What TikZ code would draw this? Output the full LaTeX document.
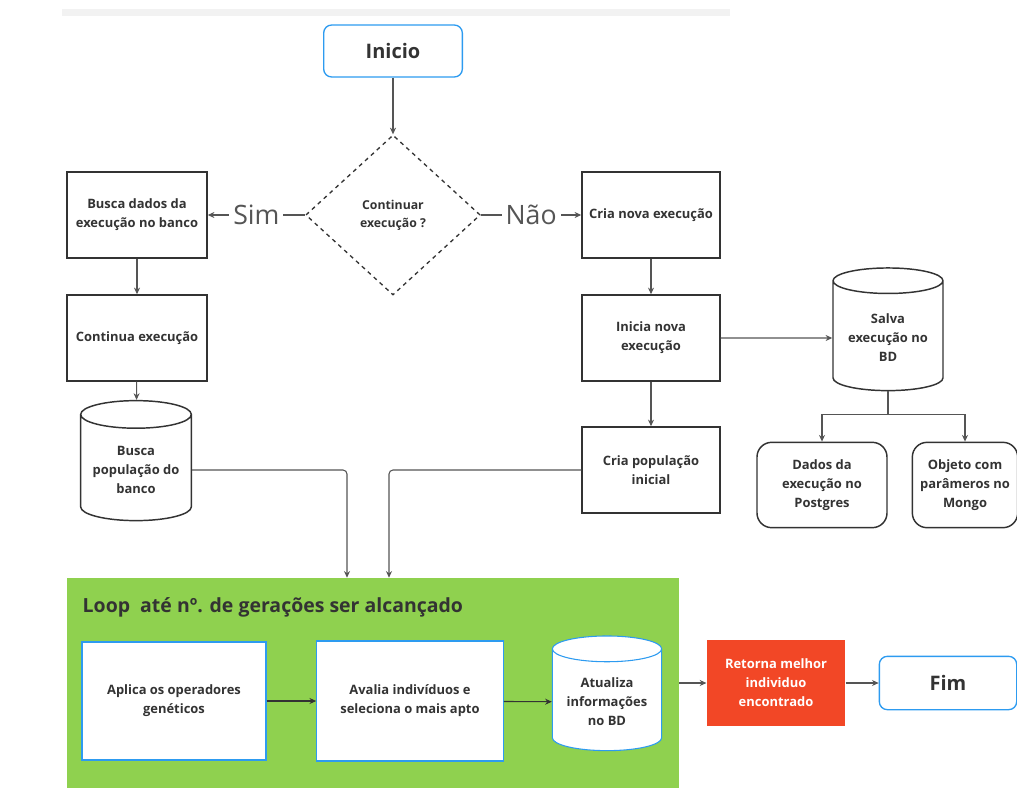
\documentclass[tikz,border=0pt]{standalone}
\usepackage{fontspec}
\setmainfont{Open Sans}
\usetikzlibrary{shapes.geometric,arrows.meta,positioning}
\definecolor{txtgray}{HTML}{333333}
\definecolor{linegray}{HTML}{555555}
\definecolor{miroblue}{HTML}{2D9BF0}
\definecolor{mirogreen}{HTML}{8FD14F}
\definecolor{mirored}{HTML}{F24726}

\begin{document}
\begin{tikzpicture}[x=0.75pt,y=-0.75pt,
    >={Stealth[length=5pt,width=4.5pt]},
    every node/.style={text=txtgray,align=center,font=\fontsize{9.7}{14.3}\selectfont\bfseries},
    arr/.style={->,draw=linegray,line width=0.8pt},
    proc/.style={draw=txtgray,line width=1.1pt,minimum width=105pt,minimum height=64.5pt,inner sep=2pt},
    term/.style={draw=miroblue,line width=1pt,rounded corners=6pt,minimum width=104pt,minimum height=39pt,font=\fontsize{15}{18}\selectfont\bfseries},
    store/.style={draw=txtgray,line width=1.1pt,rounded corners=11pt,minimum width=97.5pt,minimum height=64pt},
    cyl/.style={cylinder,shape border rotate=90,shape aspect=0.3,draw=txtgray,line width=1.1pt,minimum width=83pt,minimum height=90pt,inner sep=2pt},
    inbox/.style={fill=white,draw=miroblue,line width=0.8pt,minimum width=138pt,minimum height=88.5pt},
    answer/.style={fill=white,inner sep=3pt,text=linegray,font=\fontsize{20}{23}\selectfont\mdseries}
]
\useasboundingbox (0,0) rectangle (1017,807);
\fill[black!5] (62,9) rectangle (730,16);

% inicio e decisao
\node[term] (inicio) at (393,51) {Inicio};
\node[diamond,draw=txtgray,dashed,line width=1pt,minimum width=131pt,minimum height=120pt,inner sep=0pt,
      font=\fontsize{9.2}{13.5}\selectfont\bfseries] (decide) at (393,215) {Continuar\\execução ?};

% ramo Sim
\node[proc] (buscadados) at (137,215) {Busca dados da\\execução no banco};
\node[proc] (continua) at (137,338) {Continua execução};
\node[cyl] (buscapop) at (136,470) {Busca\\população do\\banco};

% ramo Nao
\node[proc,minimum width=103.5pt] (crianova) at (651,215) {Cria nova execução};
\node[proc,minimum width=103.5pt] (inicia) at (651,338) {Inicia nova\\execução};
\node[proc,minimum width=103.5pt] (criapop) at (651,470) {Cria população\\inicial};
\node[cyl,minimum width=82.5pt,minimum height=92pt] (salva) at (888,338) {Salva\\execução no\\BD};
\node[store] (dados) at (822,485) {Dados da\\execução no\\Postgres};
\node[store,minimum width=79pt] (objeto) at (965,485) {Objeto com\\parâmeros no\\Mongo};

% loop
\node[fill=mirogreen,minimum width=459pt,minimum height=157.5pt] (loop) at (373,683) {};
\node[anchor=west,font=\fontsize{14.6}{17}\selectfont\bfseries] (looptitle) at (78,607) {Loop\ \ até nº. de gerações ser alcançado};
\node[inbox] (aplica) at (174,701) {Aplica os operadores\\genéticos};
\node[inbox,minimum width=140pt,minimum height=90pt] (avalia) at (410,701) {Avalia indivíduos e\\seleciona o mais apto};
\node[cyl,fill=white,draw=miroblue,line width=0.8pt,minimum width=82pt,minimum height=86pt] (atualiza) at (607,702) {Atualiza\\informações\\no BD};

% saida
\node[fill=mirored,text=white,minimum width=104pt,minimum height=64.5pt] (retorna) at (776,683) {Retorna melhor\\individuo\\encontrado};
\node[term,minimum width=103pt,minimum height=40pt] (fim) at (948,683) {Fim};

% conexoes
\draw[arr] (inicio) -- (decide);
\draw[arr] (decide.west) -- node[answer] {Sim} (buscadados.east);
\draw[arr] (decide.east) -- node[answer] {Não} (crianova.west);
\draw[arr] (buscadados) -- (continua);
\draw[arr] (continua) -- (buscapop);
\draw[arr] (crianova) -- (inicia);
\draw[arr] (inicia) -- (criapop);
\draw[arr] (inicia) -- (salva);
\draw[arr] (salva.south) -- ++(0,23) -| (dados.north);
\draw[arr] (salva.south) -- ++(0,23) -| (objeto.north);
\draw[arr,rounded corners=3pt] (buscapop.east) -| ([xshift=-19.5pt]loop.north);
\draw[arr,rounded corners=3pt] (criapop.west) -| ([xshift=12pt]loop.north);
\draw[arr,draw=txtgray] (aplica) -- (avalia);
\draw[arr,draw=txtgray] (avalia) -- (atualiza);
\draw[arr] (loop.east) -- (retorna);
\draw[arr] (retorna) -- (fim);
\end{tikzpicture}
\end{document}
